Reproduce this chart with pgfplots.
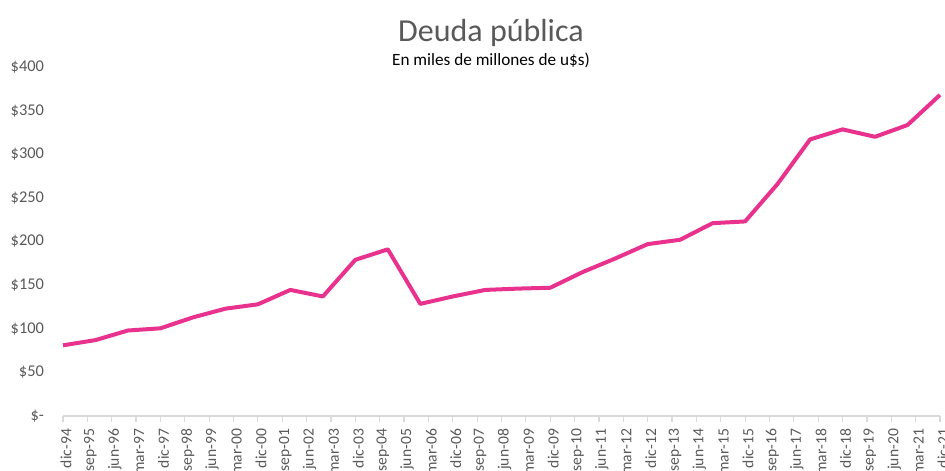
\documentclass[border=0pt]{standalone}
\usepackage{pgfplots}
\pgfplotsset{compat=1.18}
\usepackage{fontspec}
\setmainfont{Carlito}
\definecolor{deuda}{RGB}{232,50,142}
\definecolor{txtgray}{RGB}{89,89,89}
\definecolor{axgray}{RGB}{217,217,217}
\begin{document}
\begin{tikzpicture}
% page = 945x470 px at 0.5pt per px; axis corner at (0,0)
\path[use as bounding box] (-31.5pt,-27pt) rectangle (441pt,208pt);
\begin{axis}[
  at={(0,0)}, anchor=south west,
  scale only axis, width=438.5pt, height=174.5pt,
  xmin=0, xmax=108, ymin=0, ymax=400,
  axis x line*=bottom, axis y line*=left,
  x axis line style={axgray, line width=0.8pt},
  y axis line style={draw=none},
  xtick={0,3,...,108},
  xticklabels={dic-94,sep-95,jun-96,mar-97,dic-97,sep-98,jun-99,mar-00,dic-00,sep-01,jun-02,mar-03,dic-03,sep-04,jun-05,mar-06,dic-06,sep-07,jun-08,mar-09,dic-09,sep-10,jun-11,mar-12,dic-12,sep-13,jun-14,mar-15,dic-15,sep-16,jun-17,mar-18,dic-18,sep-19,jun-20,mar-21,dic-21},
  x tick label style={rotate=90, anchor=east, font=\fontsize{7.8}{8}\selectfont, text=txtgray, yshift=-1.5pt},
  xtick style={axgray, line width=0.6pt},
  tick align=outside, major tick length=3pt,
  ytick={0,50,...,400},
  yticklabels={\$-,\$50,\$100,\$150,\$200,\$250,\$300,\$350,\$400},
  y tick label style={font=\fontsize{8.2}{8}\selectfont, text=txtgray, xshift=-3pt},
  ytick style={draw=none},
  clip=false,
]
\addplot[deuda, line width=2pt, line join=round] coordinates {
(0,81) (4,87) (8,98) (12,100.5) (16,113) (20,123) (24,128)
(28,144.5) (32,137) (36,179) (40,191) (44,128.5) (48,137) (52,144.5)
(56,146) (60,147) (64,165) (68,180.5) (72,197) (76,202) (80,221)
(84,223) (88,266) (92,317) (96,328.5) (100,320) (104,333.5) (108,368)
};
\node[text=txtgray, font=\fontsize{16}{16}\selectfont] at (rel axis cs:0.488,1.097) {Deuda pública};
\node[text=black, font=\fontsize{8.6}{9}\selectfont] at (rel axis cs:0.488,1.020) {En miles de millones de u\$s)};
\end{axis}
\end{tikzpicture}
\end{document}
